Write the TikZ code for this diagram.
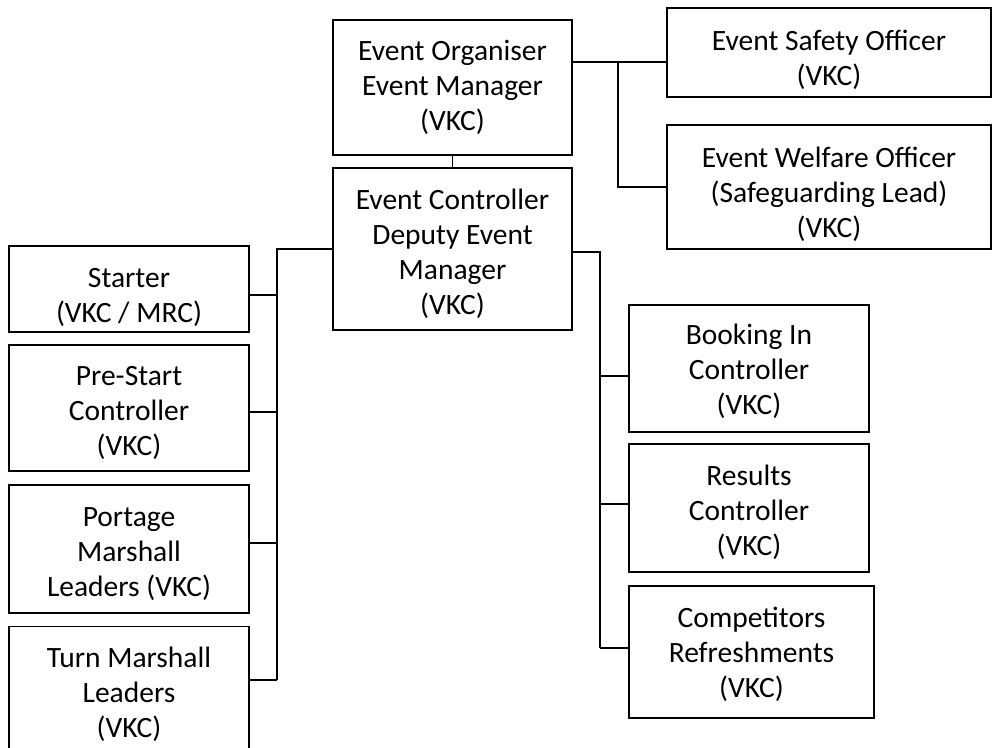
\documentclass[tikz,border=0pt]{standalone}
\usepackage{fontspec}
\setmainfont{Carlito}
\newcommand{\postfont}{\fontsize{29.5}{35}\selectfont}
\newcommand{\pad}[1]{\rule{0pt}{#1}}
\tikzset{
  post/.style 2 args={draw, line width=1.5pt, align=center, inner sep=0pt,
    minimum width=#1, minimum height=#2, font=\postfont},
  link/.style={line width=1.5pt}
}
\begin{document}
\begin{tikzpicture}[x=1pt, y=-1pt, link]
            \useasboundingbox (0,0) rectangle (992,747);
            \clip (0,0) rectangle (992,747);
            % top of the tree
            \path (452.5,87.5) node[name=org, post={239}{135}] {Event Organiser\\Event Manager\\(VKC)};
            \path (452.5,249) node[name=ctrl, post={239}{162}] {\pad{30pt}Event Controller\\Deputy Event\\Manager\\(VKC)};
            \path (829,52.5) node[name=safety, post={324}{89}] {\pad{36pt}Event Safety Officer\\(VKC)};
            \path (829,187) node[name=welfare, post={324}{124}] {\pad{36pt}Event Welfare Officer\\(Safeguarding Lead)\\(VKC)};
            % left column
            \path (129,289) node[name=starter, post={240}{86}] {\pad{36pt}Starter\\(VKC / MRC)};
            \path (129,408) node[name=prestart, post={240}{126}] {\pad{30pt}Pre-Start\\Controller\\(VKC)};
            \path (129,549) node[name=portage, post={240}{128}] {\pad{30pt}Portage\\Marshall\\Leaders (VKC)};
            \path (129,690) node[name=turn, post={240}{127}] {\pad{30pt}Turn Marshall\\Leaders\\(VKC)};
            % right column
            \path (749,368.5) node[name=booking, post={240}{127}] {\pad{26pt}Booking In\\Controller\\(VKC)};
            \path (749,508) node[name=results, post={240}{128}] {\pad{30pt}Results\\Controller\\(VKC)};
            \path (751.5,652) node[name=comp, post={245}{132}] {\pad{26pt}Competitors\\Refreshments\\(VKC)};
            \coordinate (jo) at (618,62);
            \coordinate (jl) at (277,249);
            \coordinate (jr) at (600,252);
            \draw (org) -- (ctrl);
            \draw (org.east |- jo) -- (safety.west |- jo);
            \draw (jo) |- (welfare.west);
            \draw (ctrl.west) -- (jl) -- (jl |- 0,680);
            \foreach \n/\y in {starter/295, prestart/412, portage/543, turn/680}
              \draw (jl |- 0,\y) -- (\n.east |- 0,\y);
            \draw (ctrl.east |- jr) -- (jr) -- (jr |- 0,648);
            \foreach \n/\y in {booking/376, results/504, comp/648}
              \draw (jr |- 0,\y) -- (\n.west |- 0,\y);
        \end{tikzpicture}
\end{document}
